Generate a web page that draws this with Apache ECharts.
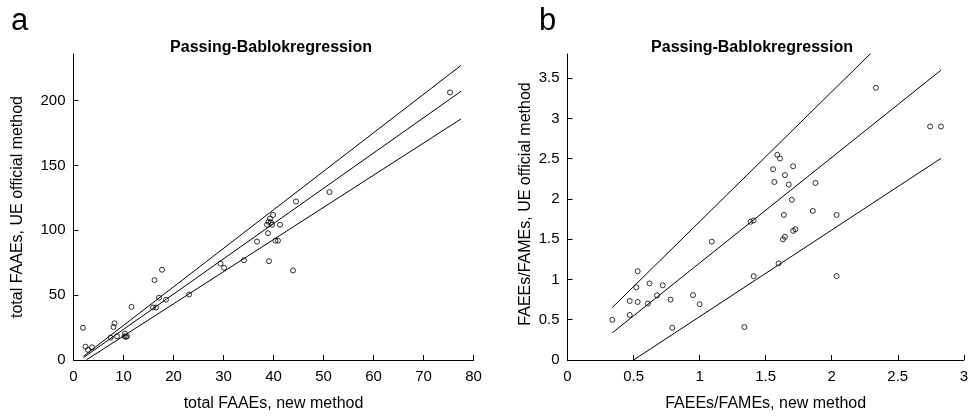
<!DOCTYPE html>
<html>
<head>
<meta charset="utf-8">
<script src="https://cdn.jsdelivr.net/npm/echarts@6/dist/echarts.min.js"></script>
<style>
html,body{margin:0;padding:0;background:#fff;}
#c{width:971px;height:417px;}
</style>
</head>
<body>
<div id="c"></div>
<script>
// ---- Panel a data: total FAAEs (new method vs UE official method) ----
const aX = [75.3, 51.2, 44.5, 39.9, 39.3, 39.0, 38.7, 39.7, 39.5, 41.3, 38.9, 36.7, 40.4, 40.9, 34.1, 29.4, 30.1, 39.1, 43.9, 17.7, 16.2, 17.1, 18.5, 23.1, 15.9, 16.5, 11.6, 8.2, 8.0, 1.9, 2.4, 2.9, 3.7, 7.4, 8.7, 10.3, 10.2, 10.5, 10.7];
const aY = [206.4, 129.5, 122.2, 111.8, 109.1, 106.6, 104.3, 104.3, 106.0, 104.3, 97.8, 91.3, 92.0, 92.0, 76.9, 74.4, 71.1, 76.2, 69.1, 69.6, 61.6, 48.0, 46.5, 50.5, 40.5, 40.5, 41.0, 28.3, 25.4, 24.8, 10.3, 7.8, 9.8, 17.3, 18.3, 20.4, 18.3, 17.9, 18.3];
// regression lines (upper CI, fit, lower CI): y = intercept + slope * x
const aIntercepts = [-3.0, -3.6, -6.3];
const aSlopes = [2.97, 2.72, 2.48];
const aLineStart = [2.0, 2.0, 2.6];
const aLineEnd = [77.5, 77.5, 77.5];
const aXTicks = [0, 10, 20, 30, 40, 50, 60, 70, 80];
const aYTicks = [0, 50, 100, 150, 200];

// ---- Panel b data: FAEEs/FAMEs ratio ----
const bX = [2.334, 2.745, 2.827, 1.588, 1.608, 1.556, 1.708, 1.646, 1.566, 1.675, 1.877, 1.698, 1.857, 2.037, 1.638, 1.386, 1.409, 1.725, 1.708, 1.646, 1.631, 1.092, 1.598, 1.409, 2.037, 0.531, 0.521, 0.621, 0.721, 0.678, 0.471, 0.531, 0.608, 0.780, 0.950, 1.000, 0.471, 0.339, 0.793, 1.339];
const bY = [3.38, 2.90, 2.90, 2.548, 2.503, 2.369, 2.406, 2.296, 2.211, 2.179, 2.199, 1.989, 1.851, 1.802, 1.802, 1.717, 1.733, 1.624, 1.604, 1.531, 1.498, 1.470, 1.199, 1.041, 1.041, 1.102, 0.903, 0.951, 0.927, 0.802, 0.733, 0.721, 0.701, 0.750, 0.806, 0.693, 0.559, 0.498, 0.401, 0.409];
const bIntercepts = [0.105, -0.107, -0.538];
const bSlopes = [1.613, 1.311, 1.076];
const bLineStart = [0.339, 0.339, 0.5];
const bLineEnd = [2.827, 2.827, 2.827];
const bXTicks = [0, 0.5, 1, 1.5, 2, 2.5, 3];
const bYTicks = [0, 0.5, 1, 1.5, 2, 2.5, 3, 3.5];

const titleText = 'Passing-Bablokregression';
const FONT = '"Liberation Sans", Arial, Helvetica, sans-serif';

function pairs(xs, ys) { return xs.map((x, i) => [x, ys[i]]); }
function lineSeries(ints, slopes, starts, ends, idx) {
  return ints.map((a, i) => ({
    type: 'line',
    xAxisIndex: idx, yAxisIndex: idx,
    data: [[starts[i], a + slopes[i] * starts[i]], [ends[i], a + slopes[i] * ends[i]]],
    symbol: 'none',
    clip: true,
    lineStyle: { color: '#000', width: 1 },
    silent: true, animation: false
  }));
}
function xAxisCfg(idx, min, max, ticks, name) {
  return {
    type: 'value', gridIndex: idx, min: min, max: max,
    name: name, nameLocation: 'middle', nameGap: 36,
    nameTextStyle: { color: '#000', fontSize: 16, fontFamily: FONT },
    axisLine: { show: true, lineStyle: { color: '#000', width: 1 } },
    axisTick: { show: true, inside: true, length: 5, customValues: ticks, lineStyle: { color: '#000' } },
    axisLabel: { customValues: ticks, color: '#000', fontSize: 15, fontFamily: FONT, margin: 9 },
    splitLine: { show: false }
  };
}
function yAxisCfg(idx, min, max, ticks) {
  return {
    type: 'value', gridIndex: idx, min: min, max: max,
    axisLine: { show: true, lineStyle: { color: '#000', width: 1 } },
    axisTick: { show: true, inside: true, length: 5, customValues: ticks, lineStyle: { color: '#000' } },
    axisLabel: { customValues: ticks, color: '#000', fontSize: 15, fontFamily: FONT, margin: 8 },
    splitLine: { show: false }
  };
}
const pointStyle = { color: 'rgba(0,0,0,0)', borderColor: '#000', borderWidth: 1 };

const chart = echarts.init(document.getElementById('c'), null, { renderer: 'canvas' });
chart.setOption({
  backgroundColor: '#fff',
  animation: false,
  grid: [
    { left: 73.5, top: 54, width: 400, height: 313 },
    { left: 567.5, top: 54, width: 401, height: 313 }
  ],
  xAxis: [
    xAxisCfg(0, 0, 80, aXTicks, 'total FAAEs, new method'),
    xAxisCfg(1, 0, 3, bXTicks, 'FAEEs/FAMEs, new method')
  ],
  yAxis: [
    yAxisCfg(0, 0, 236, aYTicks),
    yAxisCfg(1, 0, 3.8, bYTicks)
  ],
  graphic: [
    { type: 'text', left: 11, top: 6, style: { text: 'a', font: '31px ' + FONT, fill: '#000' } },
    { type: 'text', left: 539, top: 6, style: { text: 'b', font: '31px ' + FONT, fill: '#000' } },
    { type: 'text', x: 271, y: 48, style: { text: titleText, font: 'bold 16px ' + FONT, fill: '#000', textAlign: 'center', textVerticalAlign: 'middle' } },
    { type: 'text', x: 752, y: 48, style: { text: titleText, font: 'bold 16px ' + FONT, fill: '#000', textAlign: 'center', textVerticalAlign: 'middle' } },
    { type: 'text', x: 18, y: 207, rotation: Math.PI / 2, style: { text: 'total FAAEs, UE official method', font: '16px ' + FONT, fill: '#000', textAlign: 'center', textVerticalAlign: 'middle' } },
    { type: 'text', x: 526, y: 204, rotation: Math.PI / 2, style: { text: 'FAEEs/FAMEs, UE official method', font: '16px ' + FONT, fill: '#000', textAlign: 'center', textVerticalAlign: 'middle' } }
  ],
  series: [
    {
      type: 'scatter', xAxisIndex: 0, yAxisIndex: 0,
      data: pairs(aX, aY),
      symbol: 'circle', symbolSize: 5,
      itemStyle: pointStyle
    },
    {
      type: 'scatter', xAxisIndex: 1, yAxisIndex: 1,
      data: pairs(bX, bY),
      symbol: 'circle', symbolSize: 5,
      itemStyle: pointStyle
    }
  ].concat(lineSeries(aIntercepts, aSlopes, aLineStart, aLineEnd, 0))
   .concat(lineSeries(bIntercepts, bSlopes, bLineStart, bLineEnd, 1))
});
</script>
</body>
</html>
